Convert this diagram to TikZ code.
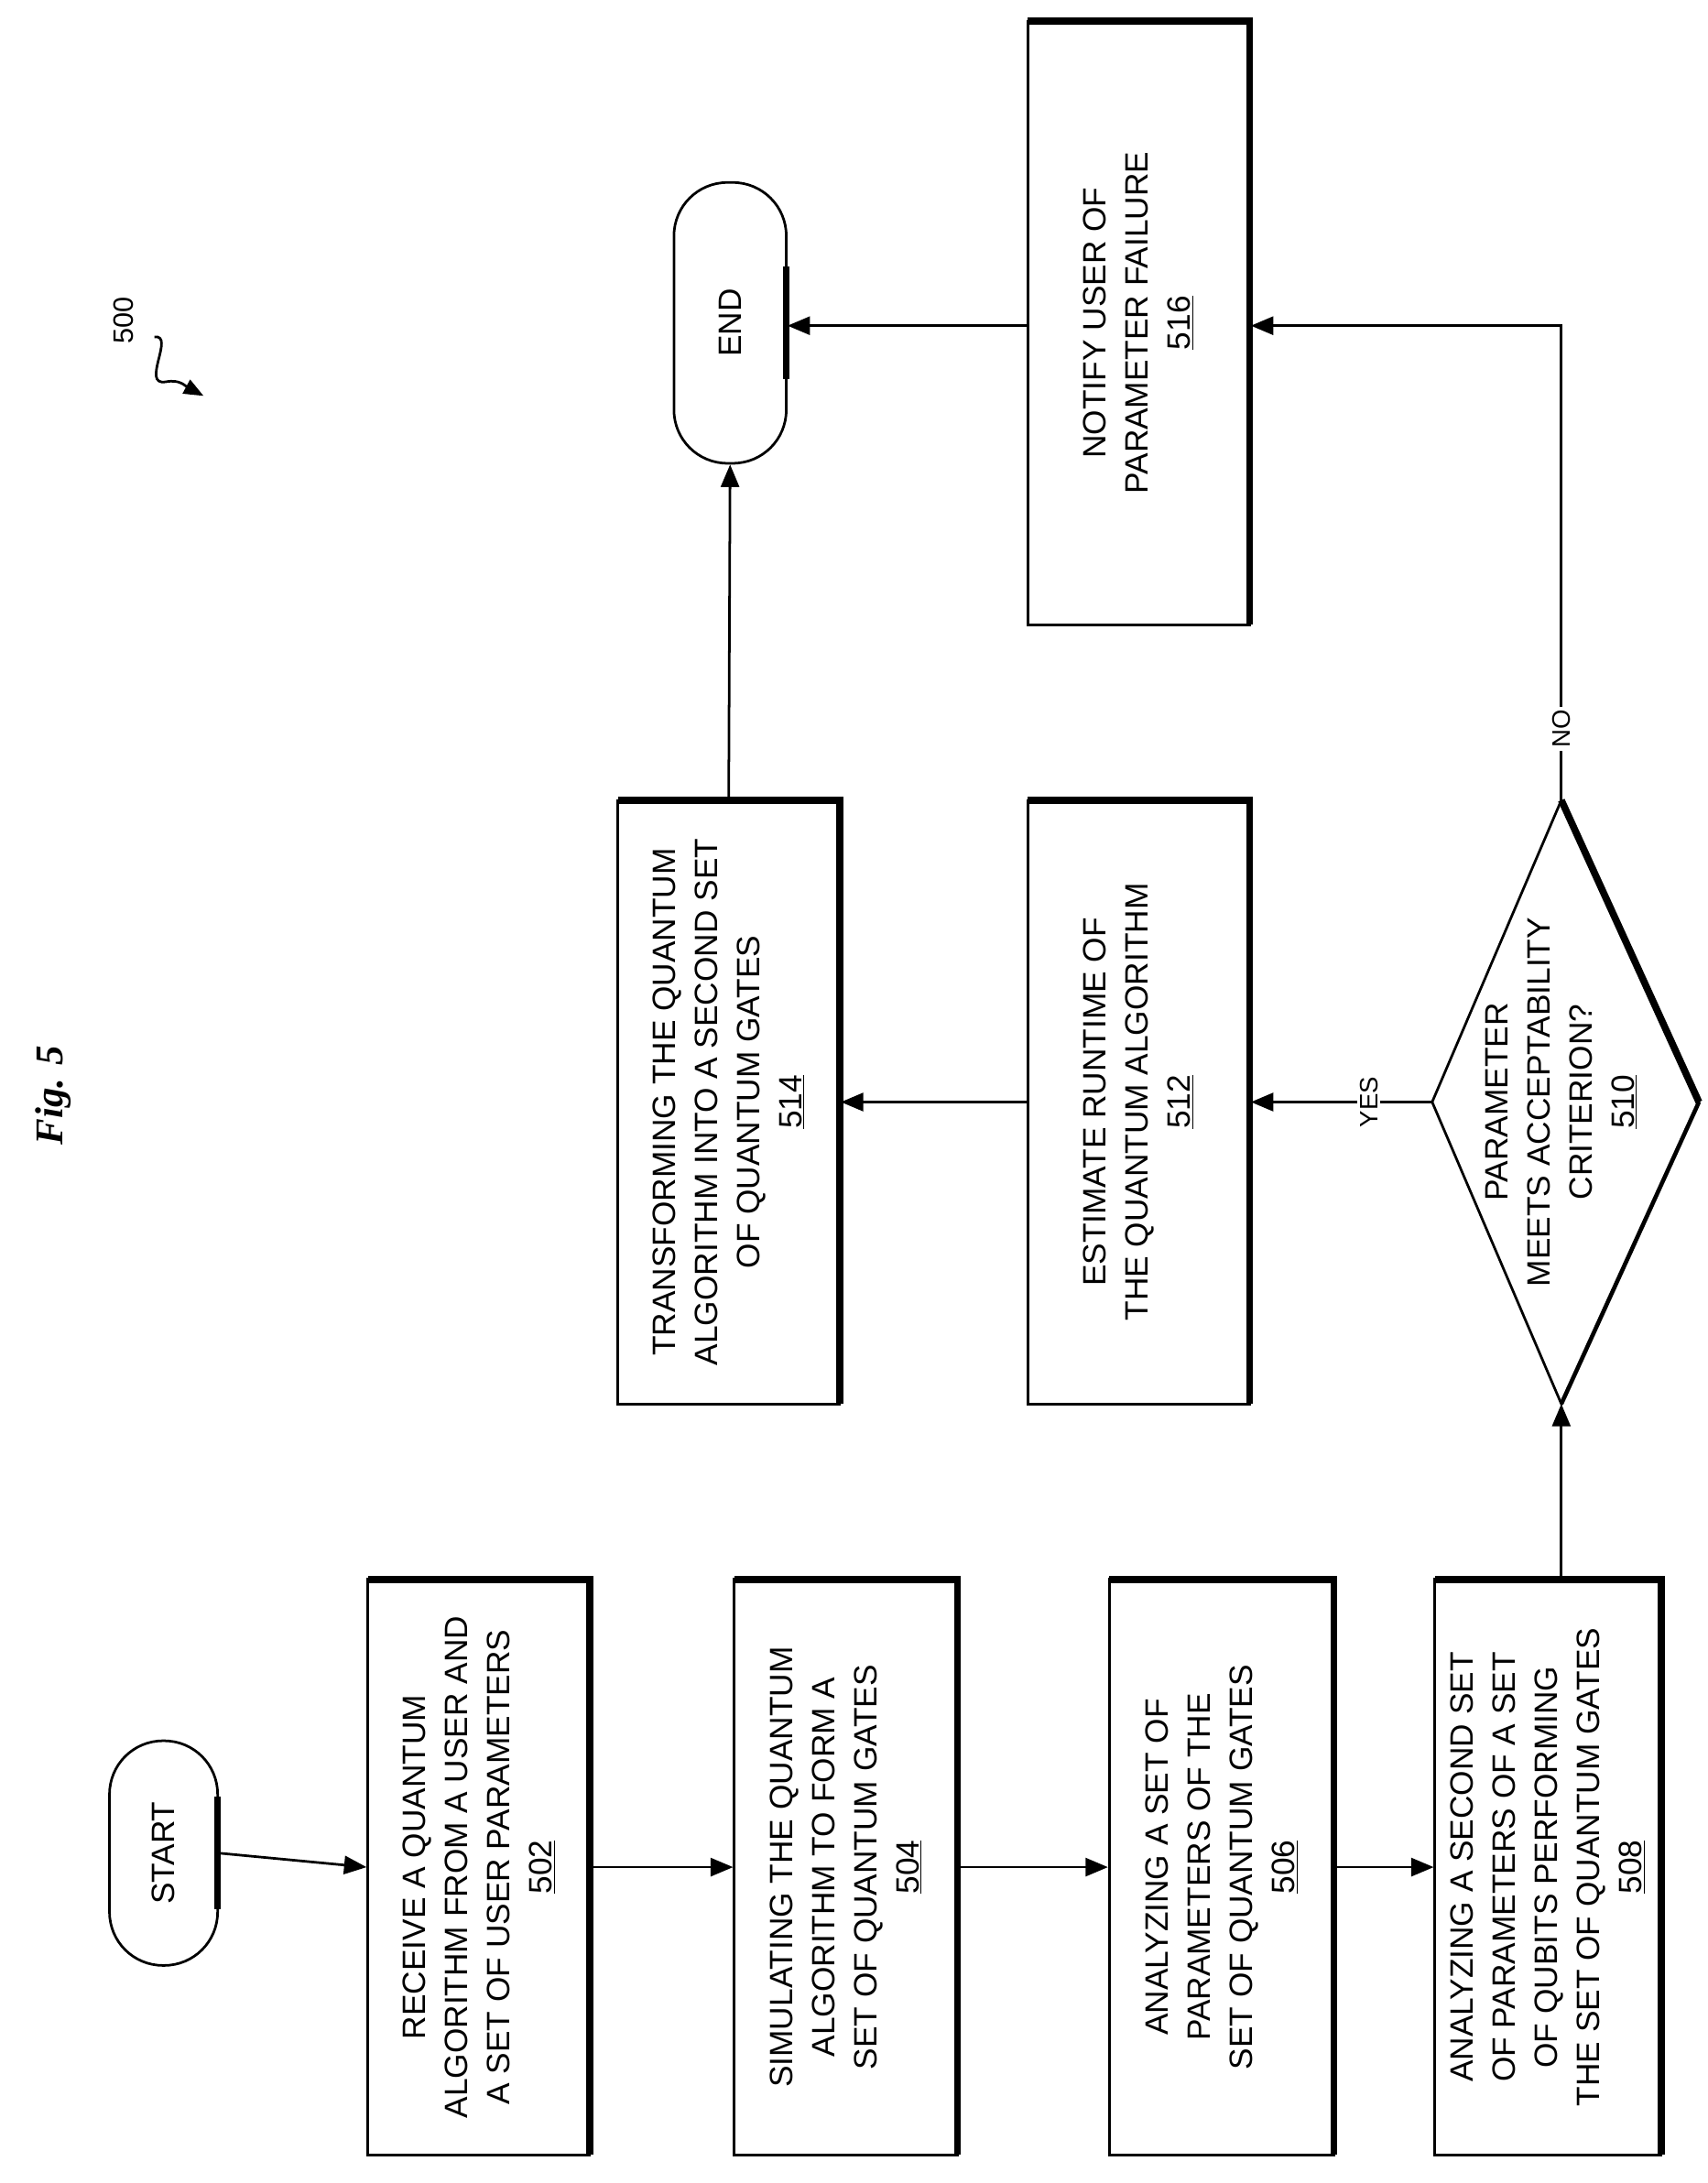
\documentclass[tikz,border=0pt]{standalone}
\usepackage{fontspec}
\setmainfont{Liberation Sans}
\newfontfamily\figfont{Liberation Serif}
\usetikzlibrary{arrows.meta}
\begin{document}
\begin{tikzpicture}[x=1pt,y=-1pt,
  box/.style={draw,line width=1.8pt,minimum width=#1,inner sep=0},
  term/.style={draw,line width=1.8pt,rounded corners=38pt,inner sep=0},
  txt/.style={rotate=90,align=center,font=\fontsize{23}{30}\selectfont},
  arr/.style={line width=1.8pt,-{Triangle[length=16pt,width=13pt]}},
  sh/.style={line width=5pt}]
\useasboundingbox (0,0) rectangle (1216,1555);
% Boxes
\foreach \n/\xa/\ya/\xb/\yb in {502/262/1125/420/1535,504/523/1125/682/1535,506/790/1125/950/1535,508/1022/1125/1183/1535,512/732/570/890/1000,514/440/570/598/1000,516/732/15/890/445}{
  \node[box=\xb-\xa, minimum height=\yb-\ya] (b\n) at ({(\xa+\xb)/2},{(\ya+\yb)/2}) {};
  \draw[sh] (\xa,\ya) -- (\xb,\ya) -- (\xb,\yb);
}
\node[txt] at (b502) {RECEIVE A QUANTUM\\ALGORITHM FROM A USER AND\\A SET OF USER PARAMETERS\\\underline{502}};
\node[txt] at (b504) {SIMULATING THE QUANTUM\\ALGORITHM TO FORM A\\SET OF QUANTUM GATES\\\underline{504}};
\node[txt] at (b506) {ANALYZING A SET OF\\PARAMETERS OF THE\\SET OF QUANTUM GATES\\\underline{506}};
\node[txt] at (b508) {ANALYZING A SECOND SET\\OF PARAMETERS OF A SET\\OF QUBITS PERFORMING\\THE SET OF QUANTUM GATES\\\underline{508}};
\node[txt] at (b512) {ESTIMATE RUNTIME OF\\THE QUANTUM ALGORITHM\\\underline{512}};
\node[txt] at (b514) {TRANSFORMING THE QUANTUM\\ALGORITHM INTO A SECOND SET\\OF QUANTUM GATES\\\underline{514}};
\node[txt] at (b516) {NOTIFY USER OF\\PARAMETER FAILURE\\\underline{516}};
% Terminals
\node[term,minimum width=77,minimum height=160] (start) at (116.5,1320) {};
\draw[sh] (155,1280) -- (155,1360);
\node[txt] at (start) {START};
\node[term,minimum width=80,minimum height=200] (end) at (520,230) {};
\draw[sh] (560,270) -- (560,190);
\node[txt] at (end) {END};
% Diamond
\coordinate (dl) at (1020,785); \coordinate (dr) at (1210,785);
\coordinate (dt) at (1112,570); \coordinate (db) at (1112,1000);
\draw[line width=1.8pt] (dl) -- (dt) -- (dr) -- (db) -- cycle;
\draw[line width=5pt] (dt) -- (dr);
\draw[line width=3pt] (dr) -- (db);
\node[txt] (d510) at (1112,785) {PARAMETER\\MEETS ACCEPTABILITY\\CRITERION?\\\underline{510}};
% Connectors
\draw[arr] (start.east) -- (b502.west);
\draw[arr] (b502.east) -- (b504.west);
\draw[arr] (b504.east) -- (b506.west);
\draw[arr] (b506.east) -- (b508.west);
\draw[arr] (b508.north -| db) -- (db);
\draw[arr] (dl) -- node[pos=0.35,fill=white,rotate=90,inner sep=2pt,font=\fontsize{18}{20}\selectfont]{YES} (b512.east);
\draw[arr] (b512.west) -- (b514.east);
\draw[arr] (b514.north) -- (end.south);
\coordinate (nc) at (1112,232);
\draw[arr] (dt) -- node[pos=0.15,fill=white,rotate=90,inner sep=2pt,font=\fontsize{18}{20}\selectfont]{NO} (nc) -- (nc -| b516.east);
\draw[arr] (b516.west |- nc) -- (end.east |- nc);
% Title and ref
\node[rotate=90,font=\fontsize{28}{30}\selectfont\figfont\bfseries\itshape] (figt) at (38,780) {Fig. 5};
\node[rotate=90,font=\fontsize{20}{22}\selectfont] (r500) at (88,228) {500};
\coordinate (sq) at (145,282);
\draw[line width=1.8pt,-{Triangle[length=14pt,width=11pt]}] (110,240) .. controls (125,238) and (100,275) .. (118,272) .. controls (128,270) and (132,275) .. (sq);
\end{tikzpicture}
\end{document}
